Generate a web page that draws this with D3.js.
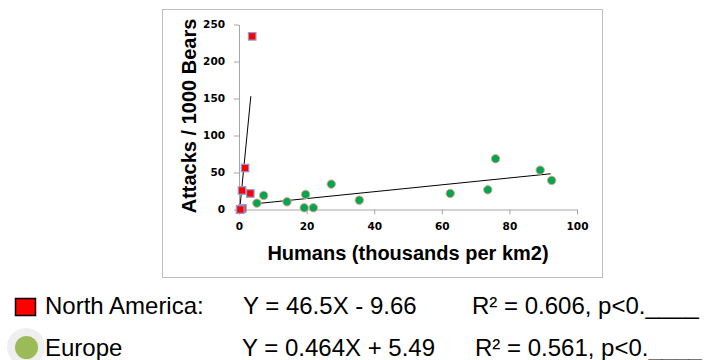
<!DOCTYPE html>
<html><head><meta charset="utf-8">
<script src="https://cdn.jsdelivr.net/npm/d3@7"></script>
<style>
body{margin:0;background:#fff;}
svg{display:block;}
</style></head>
<body>
<svg id="chart" width="708" height="360"></svg>
<script>
// ---- data ----
const naX = [0.3, 1.0, 0.9, 1.8, 3.35, 3.9, 0.4];
const naY = [0, 1.5, 25.7, 56, 21.7, 234, 0];
const euX = [5.3, 7.3, 14.2, 19.7, 19.3, 22.0, 27.3, 35.6, 62.5, 73.6, 75.9, 89.1, 92.5];
const euY = [8.6, 19, 10.4, 20.3, 2.3, 2.3, 34.3, 12.6, 21.7, 26.6, 68.6, 53.2, 39.3];
const naFit = [46.5, -9.66];      // slope, intercept
const naFitRange = [0.21, 3.5];
const euFit = [0.464, 5.49];
const euFitRange = [5.3, 92.2];
const xTicks = [0, 20, 40, 60, 80, 100];
const yTicks = [0, 50, 100, 150, 200, 250];
const xTitle = "Humans (thousands per km2)";
const yTitle = "Attacks / 1000 Bears";
const legendNames = ["North America:", "Europe"];
const legendEq = ["Y = 46.5X - 9.66", "Y = 0.464X + 5.49"];
const legendR = ["R² = 0.606, p<0.____", "R² = 0.561, p<0.____"];

// ---- drawing ----
const svg = d3.select("#chart");
const x = d3.scaleLinear().domain([0, 100]).range([239, 577]);
const y = d3.scaleLinear().domain([0, 250]).range([209.5, 24.5]);

// frame
svg.append("rect").attr("x", 162.5).attr("y", 9.5).attr("width", 440).attr("height", 268)
  .attr("fill", "none").attr("stroke", "#bdbdbd").attr("stroke-width", 1);

const axisColor = "#a6a6a6";
const tickFont = "DejaVu Sans, Verdana, sans-serif";

const gx = svg.append("g").attr("transform", `translate(0,${y(0)})`)
  .call(d3.axisBottom(x).tickValues(xTicks).tickSize(5).tickPadding(8.5).tickSizeOuter(0));
const gy = svg.append("g").attr("transform", `translate(${x(0)},0)`)
  .call(d3.axisLeft(y).tickValues(yTicks).tickSize(5).tickPadding(9).tickSizeOuter(0));
[gx, gy].forEach(g => {
  g.select(".domain").attr("stroke", axisColor);
  g.selectAll(".tick line").attr("stroke", axisColor);
  g.selectAll(".tick text").attr("fill", "#000").attr("font-family", tickFont)
    .attr("font-weight", "bold").attr("font-size", 10.5);
});

// trend lines
function fitLine(fit, range) {
  return range.map(v => [x(v), y(fit[0] * v + fit[1])]);
}
const line = d3.line();
svg.append("path").attr("d", line(fitLine(euFit, euFitRange)))
  .attr("stroke", "#000").attr("stroke-width", 1).attr("fill", "none");

// europe points
svg.append("g").selectAll("circle").data(d3.range(euX.length)).join("circle")
  .attr("cx", i => x(euX[i])).attr("cy", i => y(euY[i])).attr("r", 4.2)
  .attr("fill", "#00a651").attr("stroke", "#e8a48a").attr("stroke-width", 1);

svg.append("path").attr("d", line(fitLine(naFit, naFitRange)))
  .attr("stroke", "#000").attr("stroke-width", 1).attr("fill", "none");

// north america points
const s = 7.5;
svg.append("g").selectAll("rect").data(d3.range(naX.length)).join("rect")
  .attr("x", i => x(naX[i]) - s / 2).attr("y", i => y(naY[i]) - s / 2)
  .attr("width", s).attr("height", s)
  .attr("fill", "#ff0000").attr("stroke", "#8e9fd6").attr("stroke-width", 1.2);

// axis titles
svg.append("text").attr("x", 408).attr("y", 260).attr("text-anchor", "middle")
  .attr("font-family", "Liberation Sans, Arial, sans-serif").attr("font-weight", "bold")
  .attr("font-size", 20).text(xTitle);
svg.append("text").attr("transform", "translate(196,116) rotate(-90)").attr("text-anchor", "middle")
  .attr("font-family", "Liberation Sans, Arial, sans-serif").attr("font-weight", "bold")
  .attr("font-size", 20).text(yTitle);

// legend
const lf = "Liberation Sans, Arial, sans-serif";
svg.append("rect").attr("x", 15.5).attr("y", 298.5).attr("width", 20).attr("height", 17)
  .attr("fill", "#ff0000").attr("stroke", "#000").attr("stroke-width", 1.5);
svg.append("circle").attr("cx", 26).attr("cy", 347).attr("r", 19).attr("fill", "#efefef");
svg.append("circle").attr("cx", 26.5).attr("cy", 347.5).attr("r", 11.5).attr("fill", "#9bbb59");
const legX = [[45, 243, 472], [45, 242, 475]];
const legBase = [314, 356];
[0, 1].forEach(r => {
  [legendNames[r], legendEq[r], legendR[r]].forEach((t, c) => {
    svg.append("text").attr("x", legX[r][c]).attr("y", legBase[r])
      .attr("font-family", lf).attr("font-size", 24).attr("fill", "#000").text(t);
  });
});
</script>
</body></html>
